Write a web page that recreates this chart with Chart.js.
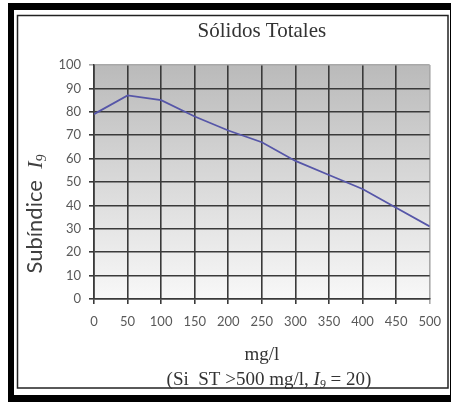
<!DOCTYPE html>
<html><head><meta charset="utf-8">
<script src="https://cdn.jsdelivr.net/npm/chart.js@4"></script>
<style>html,body{margin:0;padding:0;background:#fff}#wrap{position:relative;width:451px;height:403px}</style>
</head><body><div id="wrap"><canvas id="c" width="451" height="403"></canvas></div>
<script>
// ---- data ----
const concentration = [0, 50, 100, 150, 200, 250, 300, 350, 400, 450, 500];
const subindex = [79, 87, 85, 78, 72, 67, 59, 53, 47, 39, 31];
const xTickStep = 50;
const yTickStep = 10;
const chartTitle = 'Sólidos Totales';
const xTitle = 'mg/l';
const yTitleParts = ['Subíndice  ', 'I', '9'];
const noteParts = ['(Si  ST >500 mg/l, ', 'I', '9', ' = 20)'];

const points = concentration.map((x, i) => ({x: x, y: subindex[i]}));

function measureSegments(ctx, segs) {
  let w = 0;
  segs.forEach(s => { ctx.font = s.font; w += ctx.measureText(s.text).width; });
  return w;
}
function paintSegments(ctx, segs, x, y) {
  let cx = x;
  segs.forEach(s => {
    ctx.font = s.font;
    ctx.fillText(s.text, cx, y + (s.dy || 0));
    cx += ctx.measureText(s.text).width;
  });
}

const framePlugin = {
  id: 'frame',
  beforeDraw(chart) {
    const ctx = chart.ctx;
    const {left, top, right, bottom} = chart.chartArea;
    ctx.save();
    ctx.fillStyle = '#fff'; ctx.fillRect(0, 0, 451, 403);
    ctx.fillStyle = '#000'; ctx.fillRect(8, 3, 443, 399);
    ctx.fillStyle = '#fff'; ctx.fillRect(14, 10, 436, 385);
    const g = ctx.createLinearGradient(0, top, 0, bottom);
    g.addColorStop(0, '#bababa');
    g.addColorStop(1, '#f8f8f8');
    ctx.fillStyle = g;
    ctx.fillRect(left, top, right - left, bottom - top);
    ctx.restore();
  },
  afterDraw(chart) {
    const ctx = chart.ctx;
    ctx.save();
    ctx.textBaseline = 'alphabetic';
    ctx.textAlign = 'left';
    // y title (rotated)
    const ySegs = [
      {text: yTitleParts[0], font: '22px Lato'},
      {text: yTitleParts[1], font: 'italic 22px "Liberation Serif"'},
      {text: yTitleParts[2], font: 'italic 14px "Liberation Serif"', dy: 4}
    ];
    const yw = measureSegments(ctx, ySegs);
    ctx.translate(42, 214 + yw / 2);
    ctx.rotate(-Math.PI / 2);
    ctx.fillStyle = '#404040';
    paintSegments(ctx, ySegs, 0, 0);
    ctx.setTransform(1, 0, 0, 1, 0, 0);
    // note line
    const nSegs = [
      {text: noteParts[0], font: '19px "Liberation Serif"'},
      {text: noteParts[1], font: 'italic 19px "Liberation Serif"'},
      {text: noteParts[2], font: 'italic 12px "Liberation Serif"', dy: 3},
      {text: noteParts[3], font: '19px "Liberation Serif"'}
    ];
    const nw = measureSegments(ctx, nSegs);
    ctx.fillStyle = '#333';
    paintSegments(ctx, nSegs, 269 - nw / 2, 385);
    // inner frame line
    ctx.strokeStyle = '#222';
    ctx.lineWidth = 1.5;
    ctx.strokeRect(17.5, 15.5, 430.5, 372.5);
    ctx.restore();
  }
};

const darkGrid = '#3a3a3a';
const lightGrid = '#a8a8a8';

new Chart(document.getElementById('c'), {
  type: 'line',
  data: {
    datasets: [{
      data: points,
      borderColor: '#5656a8',
      borderWidth: 1.8,
      pointRadius: 0,
      tension: 0,
      fill: false
    }]
  },
  options: {
    responsive: false,
    animation: false,
    devicePixelRatio: 1,
    layout: {padding: {left: 18, right: 21, top: 10, bottom: 15}},
    plugins: {
      legend: {display: false},
      tooltip: {enabled: false},
      title: {
        display: true,
        text: chartTitle,
        fullSize: false,
        color: '#333',
        font: {family: '"Liberation Serif"', size: 21, weight: 'normal'},
        padding: {top: 8.5, bottom: 21.3}
      }
    },
    scales: {
      x: {
        type: 'linear',
        min: 0, max: 500,
        ticks: {stepSize: xTickStep, color: '#595959', font: {family: 'Lato', size: 13}, padding: 10, maxRotation: 0},
        grid: {
          color: c => (c.tick && c.tick.value === 500) ? lightGrid : darkGrid,
          lineWidth: 1.6,
          tickLength: 5
        },
        border: {color: darkGrid, width: 1.6},
        title: {
          display: true, text: xTitle, color: '#333',
          font: {family: '"Liberation Serif"', size: 19, weight: 'normal'},
          padding: {top: 0, bottom: 21.6}
        },
        afterFit: s => { s.height = 89; }
      },
      y: {
        min: 0, max: 100,
        ticks: {stepSize: yTickStep, color: '#595959', font: {family: 'Lato', size: 13}, padding: 8},
        grid: {
          color: c => (c.tick && c.tick.value === 100) ? lightGrid : darkGrid,
          lineWidth: 1.6,
          tickLength: 5
        },
        border: {color: darkGrid, width: 1.6},
        afterFit: s => { s.width = 76; }
      }
    }
  },
  plugins: [framePlugin]
});
</script>
</body></html>
